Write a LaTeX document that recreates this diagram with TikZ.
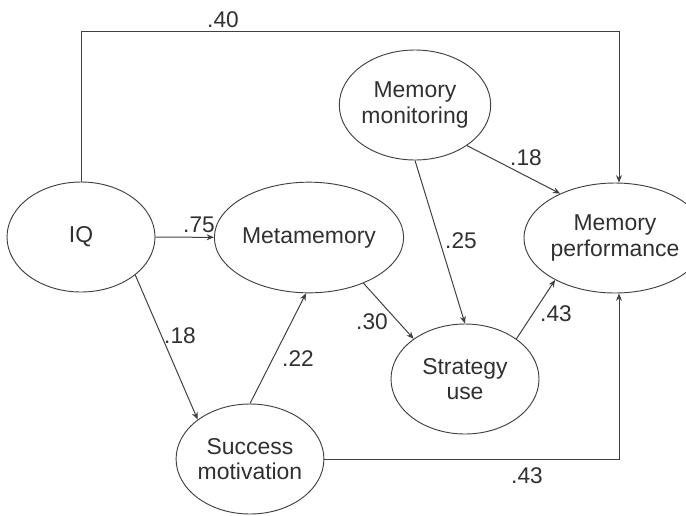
\documentclass[tikz,border=0pt]{standalone}
\usepackage{fontspec}
\setmainfont{Liberation Sans}
\usetikzlibrary{arrows.meta,shapes.geometric}
\definecolor{ln}{HTML}{404040}
\definecolor{tx}{HTML}{303030}
\begin{document}
\begin{tikzpicture}[x=0.75pt,y=-0.75pt,
  var/.style={ellipse,draw=ln,line width=0.7pt,inner sep=0pt,align=center,
    text=tx,font=\fontsize{17.2}{18.8}\selectfont},
  arr/.style={draw=ln,line width=0.75pt,-{Stealth[length=5.5pt,width=4.5pt]}},
  lab/.style={text=tx,font=\fontsize{17}{18.8}\selectfont,inner sep=0pt}]
\useasboundingbox (0,0) rectangle (686,515);
\node[var,minimum width=111pt,minimum height=82.5pt] (IQ) at (81,237) {IQ};
\node[var,minimum width=111pt,minimum height=83pt] (meta) at (309,237.5) {Metamemory};
\node[var,minimum width=108pt,minimum height=82.5pt] (mon) at (415,105) {Memory\\monitoring};
\node[var,minimum width=105pt,minimum height=82.5pt] (perf) at (615,238) {Memory\\performance};
\node[var,minimum width=111pt,minimum height=82.5pt] (strat) at (465,379) {Strategy\\use};
\node[var,minimum width=109.5pt,minimum height=82.5pt] (succ) at (250,459) {Success\\motivation};
\coordinate (ytop) at (0,31);
\draw[arr] (IQ.north) -- (IQ.north |- ytop) -| ([xshift=3pt]perf.north);
\draw[arr] (IQ) -- (meta);
\draw[arr] (IQ.-35) -- (succ.143);
\draw[arr] (succ.north) -- (meta.-93);
\draw[arr] (meta.-40) -- (strat.142);
\draw[arr] (mon.south) -- (strat.north);
\draw[arr] (mon.-38) -- (perf.141);
\draw[arr] (strat.38) -- (perf.-145);
\draw[arr] (succ.east) -| ([xshift=3pt]perf.south);
\node[lab] (l40) at (223,20) {.40};
\node[lab] (l75) at (199,225) {.75};
\node[lab] (l18a) at (180,336) {.18};
\node[lab] (l22) at (298,359) {.22};
\node[lab] (l30) at (372,322) {.30};
\node[lab] (l25) at (461,241) {.25};
\node[lab] (l18b) at (526,158) {.18};
\node[lab] (l43a) at (556,314) {.43};
\node[lab] (l43b) at (527,476) {.43};
\end{tikzpicture}
\end{document}
